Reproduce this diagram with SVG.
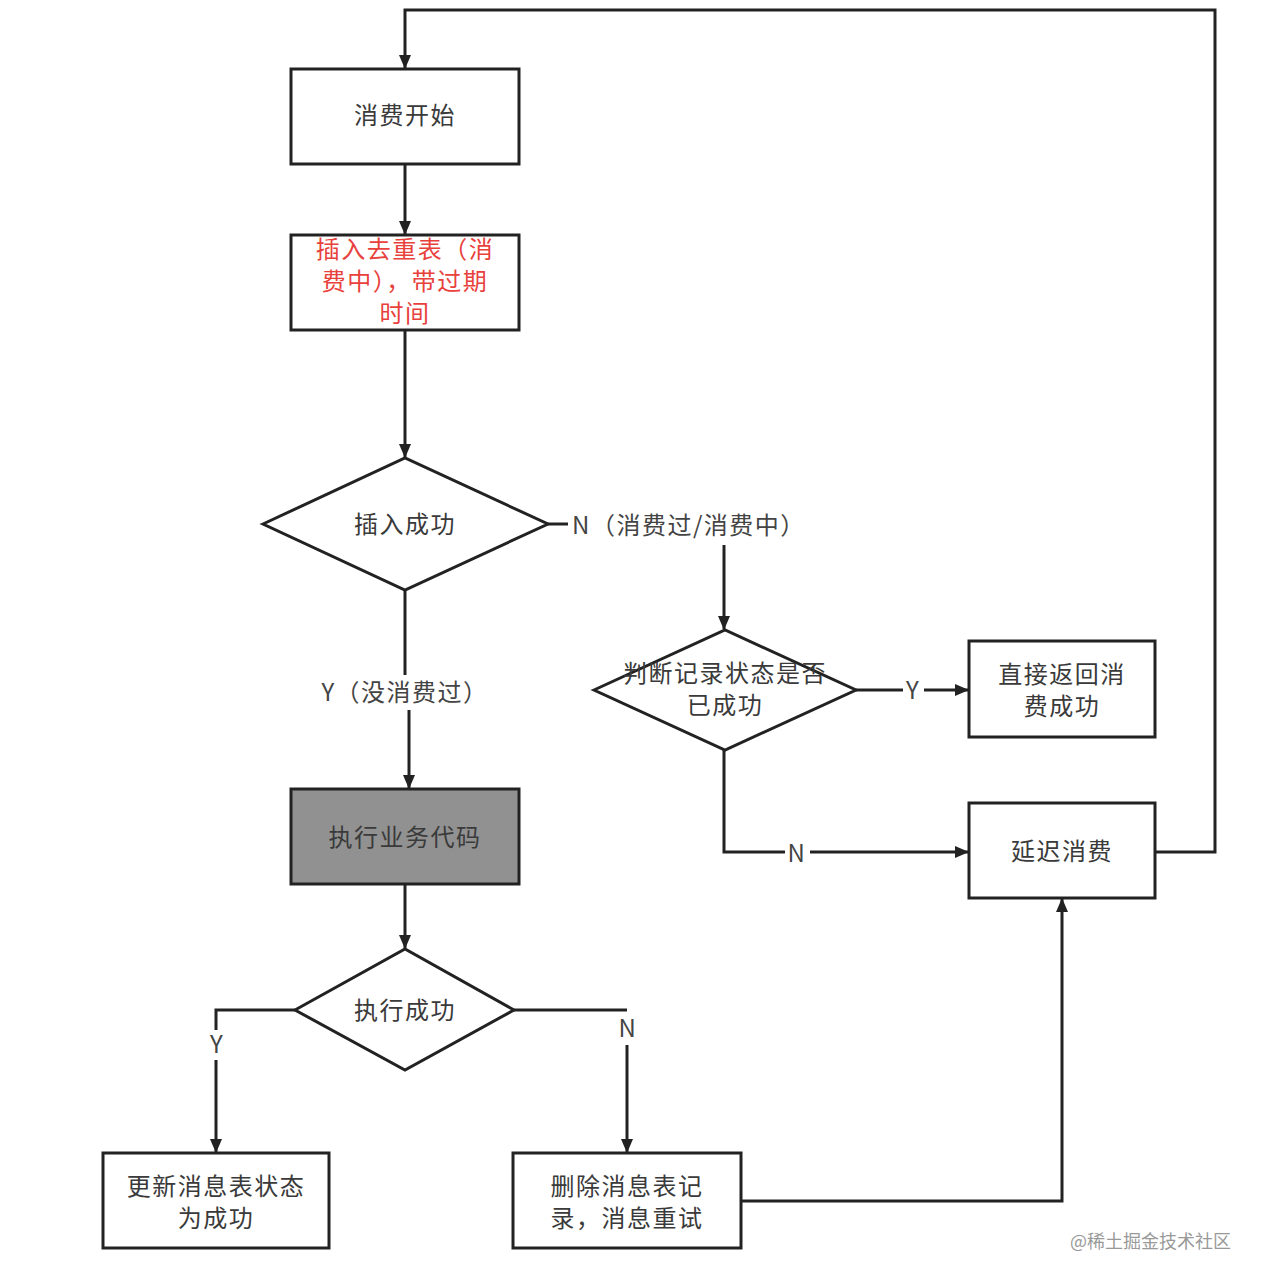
<svg xmlns="http://www.w3.org/2000/svg" width="1264" height="1284" viewBox="0 0 1264 1284">
<defs>
<marker id="ah" viewBox="0 0 14 12" refX="13" refY="6" markerWidth="14" markerHeight="12" markerUnits="userSpaceOnUse" orient="auto">
<path d="M0,0 L14,6 L0,12 Z" fill="#222"/>
</marker>
<style>
.n{fill:#fff;stroke:#222;stroke-width:3}
.g{fill:#919191;stroke:#222;stroke-width:3}
.t{font-family:"Noto Sans CJK SC","Noto Sans",sans-serif;font-size:24px;letter-spacing:1.5px;fill:#3a3a3a;text-anchor:middle}
.r{fill:#e8413c}
.c{fill:none;stroke:#222;stroke-width:3}
.a{marker-end:url(#ah)}
.l{font-family:"Noto Sans CJK SC","Noto Sans",sans-serif;font-size:24px;letter-spacing:1.5px;fill:#444;text-anchor:middle}
.w{font-family:"Noto Sans CJK SC",sans-serif;font-size:18px;fill:#999}
</style>
</defs>
<rect width="1264" height="1284" fill="#fff"/>
<g id="connectors">
<polyline class="c a" points="1155,852 1215,852 1215,10 405,10 405,68"/>
<line class="c a" x1="405" y1="164" x2="405" y2="234"/>
<line class="c a" x1="405" y1="330" x2="405" y2="457"/>
<line class="c" x1="548" y1="524" x2="568" y2="524"/>
<line class="c a" x1="724" y1="545" x2="724" y2="629"/>
<line class="c" x1="405" y1="590" x2="405" y2="675"/>
<line class="c a" x1="409" y1="710" x2="409" y2="788"/>
<line class="c" x1="856" y1="690" x2="903" y2="690"/>
<line class="c a" x1="924" y1="690" x2="968" y2="690"/>
<polyline class="c" points="724,750 724,852 785,852"/>
<line class="c a" x1="810" y1="852" x2="968" y2="852"/>
<line class="c a" x1="405" y1="884" x2="405" y2="948"/>
<polyline class="c" points="295,1010 216,1010 216,1030"/>
<line class="c a" x1="216" y1="1060" x2="216" y2="1152"/>
<line class="c" x1="514" y1="1010" x2="627" y2="1010"/>
<line class="c a" x1="627" y1="1045" x2="627" y2="1152"/>
<polyline class="c a" points="741,1201 1062,1201 1062,899"/>
<text class="l" x="689" y="534">N（消费过/消费中）</text>
<text class="l" x="405" y="701">Y（没消费过）</text>
<text class="l" x="913" y="699">Y</text>
<text class="l" x="797" y="862">N</text>
<text class="l" x="217" y="1053">Y</text>
<text class="l" x="628" y="1037">N</text>
</g>
<g id="start">
<rect class="n" x="291" y="69" width="228" height="95"/>
<text class="t" x="405" y="124">消费开始</text>
</g>
<g id="insert">
<rect class="n" x="291" y="235" width="228" height="95"/>
<text class="t r" x="405" y="258">插入去重表（消</text>
<text class="t r" x="405" y="290">费中），带过期</text>
<text class="t r" x="405" y="322">时间</text>
</g>
<g id="insertOk">
<polygon class="n" points="263,524 405,458 548,524 405,590"/>
<text class="t" x="405" y="533">插入成功</text>
</g>
<g id="checkStatus">
<polygon class="n" points="594,690 725,630 856,690 725,750"/>
<text class="t" x="725" y="682">判断记录状态是否</text>
<text class="t" x="725" y="714">已成功</text>
</g>
<g id="returnOk">
<rect class="n" x="969" y="641" width="186" height="96"/>
<text class="t" x="1062" y="683">直接返回消</text>
<text class="t" x="1062" y="715">费成功</text>
</g>
<g id="delay">
<rect class="n" x="969" y="803" width="186" height="95"/>
<text class="t" x="1062" y="860">延迟消费</text>
</g>
<g id="exec">
<rect class="g" x="291" y="789" width="228" height="95"/>
<text class="t" x="405" y="846">执行业务代码</text>
</g>
<g id="execOk">
<polygon class="n" points="295,1010 405,949 514,1010 405,1070"/>
<text class="t" x="405" y="1019">执行成功</text>
</g>
<g id="updateOk">
<rect class="n" x="103" y="1153" width="226" height="95"/>
<text class="t" x="216" y="1195">更新消息表状态</text>
<text class="t" x="216" y="1227">为成功</text>
</g>
<g id="retry">
<rect class="n" x="513" y="1153" width="228" height="95"/>
<text class="t" x="627" y="1195">删除消息表记</text>
<text class="t" x="627" y="1227">录，消息重试</text>
</g>
<text class="w" x="1070" y="1248">@稀土掘金技术社区</text>
</svg>
